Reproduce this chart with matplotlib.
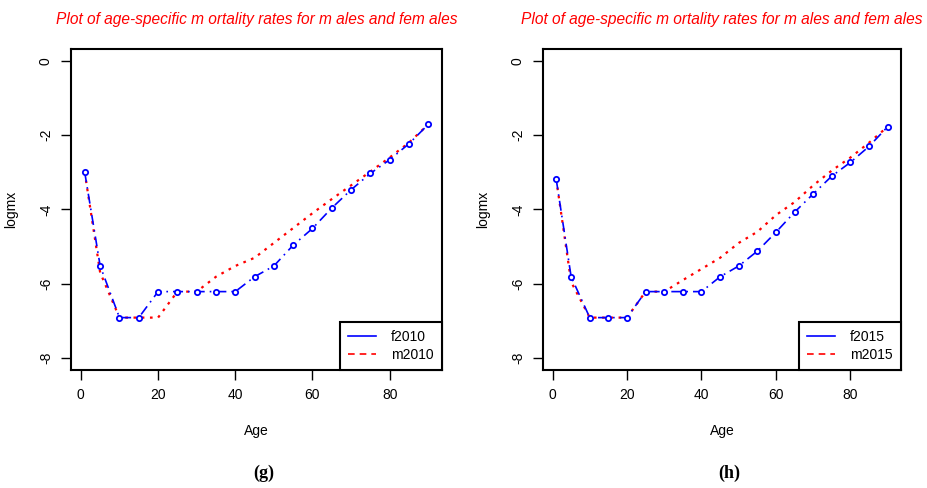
import matplotlib
matplotlib.use('Agg')
from matplotlib import pyplot as plt
from matplotlib.lines import Line2D

# age groups and log mortality rates
age = [1, 5, 10, 15, 20, 25, 30, 35, 40, 45, 50, 55, 60, 65, 70, 75, 80, 85, 90]
f2010 = [-3.00, -5.52, -6.91, -6.91, -6.21, -6.21, -6.21, -6.21, -6.21, -5.81,
         -5.52, -4.96, -4.51, -3.96, -3.47, -3.03, -2.66, -2.23, -1.71]
m2010 = [-3.00, -5.70, -6.91, -6.91, -6.91, -6.21, -6.21, -5.81, -5.52, -5.30,
         -4.90, -4.50, -4.10, -3.72, -3.35, -2.98, -2.60, -2.20, -1.71]
f2015 = [-3.19, -5.81, -6.91, -6.91, -6.91, -6.21, -6.21, -6.21, -6.21, -5.81,
         -5.52, -5.12, -4.61, -4.07, -3.58, -3.10, -2.73, -2.30, -1.77]
m2015 = [-3.19, -5.95, -6.91, -6.91, -6.91, -6.21, -6.21, -5.90, -5.60, -5.30,
         -4.90, -4.60, -4.15, -3.80, -3.35, -2.95, -2.60, -2.20, -1.77]

panels = [
    ('(g)', 'f2010', f2010, 'm2010', m2010),
    ('(h)', 'f2015', f2015, 'm2015', m2015),
]
xticks = [0, 20, 40, 60, 80]
yticks = [0, -2, -4, -6, -8]
title = 'Plot of age-specific m ortality rates for m ales and fem ales'

plt.rcParams['font.family'] = ['Liberation Sans', 'DejaVu Sans']

fig = plt.figure(figsize=(9.28, 4.88), dpi=100)
positions = [[0.0765, 0.2418, 0.3998, 0.6578], [0.5851, 0.2418, 0.3858, 0.6578]]

for pos, (tag, fname, fvals, mname, mvals) in zip(positions, panels):
    ax = fig.add_axes(pos)
    ax.plot(age, fvals, color='blue', linestyle=(0, (6, 3, 1, 3)), linewidth=1.2,
            marker='o', markersize=3.8, markerfacecolor='white',
            markeredgecolor='blue', markeredgewidth=1.3, zorder=3)
    ax.plot(age, mvals, color='red', linestyle=(0, (1.2, 2.5)), linewidth=1.6, zorder=2)

    ax.set_xlim(-2.56, 93.56)
    ax.set_ylim(-8.32, 0.32)
    ax.set_xticks(xticks)
    ax.set_yticks(yticks)
    ax.set_yticklabels([str(v) for v in yticks], rotation=90, va='center')
    ax.tick_params(direction='out', length=7, width=1, labelsize=10, pad=6)
    for s in ax.spines.values():
        s.set_linewidth(1.5)

    ax.set_title(title, color='red', style='italic', fontsize=11.2, pad=18)
    ax.set_xlabel('Age', fontsize=10, labelpad=16)
    ax.set_ylabel('logmx', fontsize=10, labelpad=15)

    handles = [Line2D([], [], color='blue', linewidth=1.2),
               Line2D([], [], color='red', linewidth=1.2, linestyle=(0, (4, 3)))]
    leg = ax.legend(handles, [fname, mname], loc='lower right', borderaxespad=0,
                    fontsize=10, fancybox=False, framealpha=1, edgecolor='black',
                    handlelength=2.0, borderpad=0.6, labelspacing=0.25, handletextpad=1.1)
    leg.get_frame().set_linewidth(1.5)

    cx = pos[0] + pos[2] / 2
    fig.text(cx + 0.008, 0.03, tag, ha='center', va='center', fontsize=13,
             fontweight='bold', family='Liberation Serif')

fig.savefig('out.png', dpi=100)
